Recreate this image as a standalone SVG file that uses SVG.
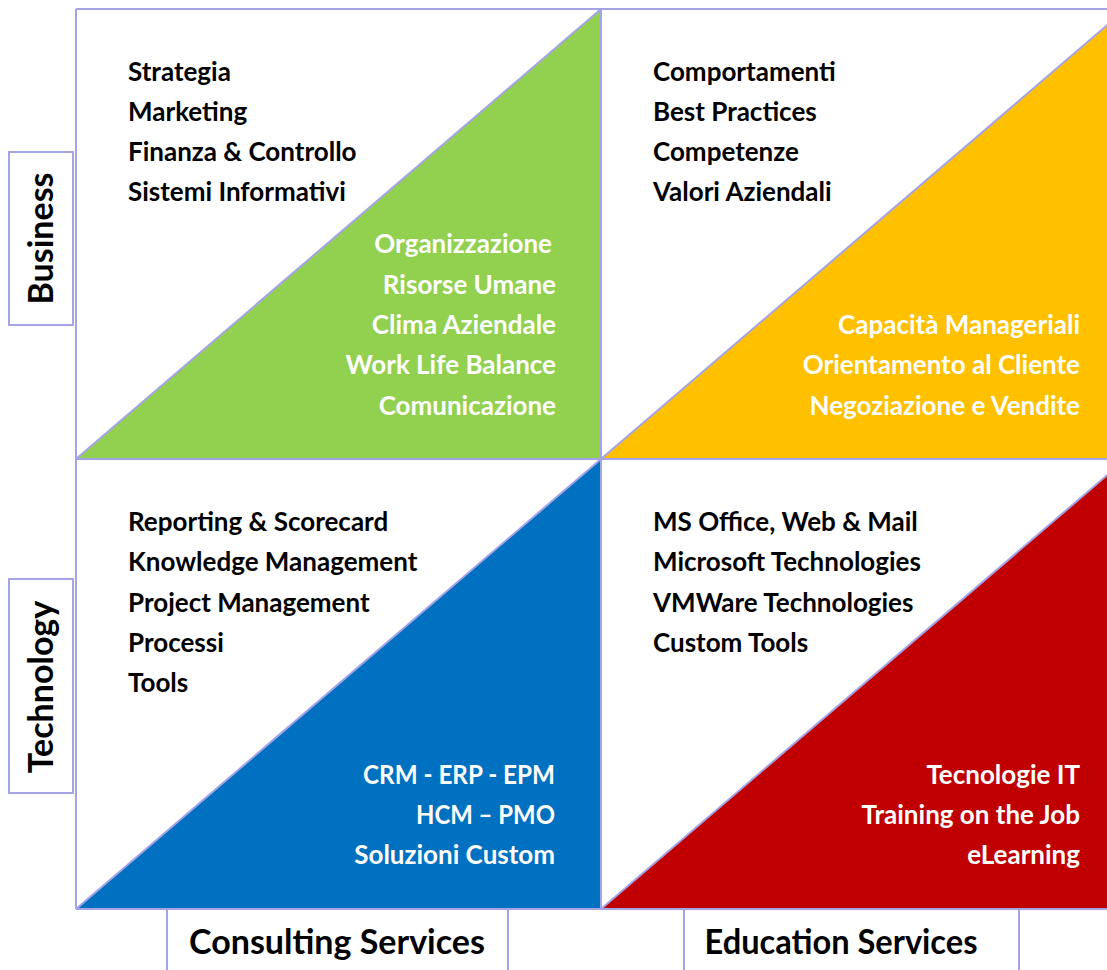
<svg xmlns="http://www.w3.org/2000/svg" width="1107" height="970" viewBox="0 0 1107 970">
<style>
.t{font-family:Lato,"Open Sans","Liberation Sans",sans-serif;font-weight:bold;font-size:26px;fill:#000}
.w{fill:#fff}
.e{text-anchor:end}
.lbl{font-family:Lato,"Open Sans","Liberation Sans",sans-serif;font-weight:bold;font-size:34px;fill:#000}
.ln{stroke:#a3a3e6;stroke-width:2;fill:none}
.box{fill:#fff;stroke:#a3a3e6;stroke-width:2}
</style>
<rect width="1107" height="970" fill="#fff"/>
<g id="quadrants">
<polygon points="76,459 601,459 601,9" fill="#92d050"/>
<polygon points="601,459 1126,459 1126,9" fill="#ffc000"/>
<polygon points="76,909 601,909 601,459" fill="#0070c0"/>
<polygon points="601,909 1126,909 1126,459" fill="#c00000"/>
</g>
<g id="connectors">
<line class="ln" x1="76" y1="9" x2="1107" y2="9"/>
<line class="ln" x1="76" y1="459" x2="1107" y2="459"/>
<line class="ln" x1="76" y1="909" x2="1107" y2="909"/>
<line class="ln" x1="76" y1="9" x2="76" y2="909"/>
<line class="ln" x1="601" y1="9" x2="601" y2="909"/>
<line class="ln" x1="76" y1="459" x2="601" y2="9"/>
<line class="ln" x1="601" y1="459" x2="1126" y2="9"/>
<line class="ln" x1="76" y1="909" x2="601" y2="459"/>
<line class="ln" x1="601" y1="909" x2="1126" y2="459"/>
</g>
<g id="business-label">
<rect class="box" x="9" y="152" width="64" height="173"/>
<text class="lbl" transform="translate(53,238.5) rotate(-90)" text-anchor="middle">Business</text>
</g>
<g id="technology-label">
<rect class="box" x="9" y="579" width="64" height="214"/>
<text class="lbl" transform="translate(53,687) rotate(-90)" text-anchor="middle">Technology</text>
</g>
<g id="consulting-label">
<rect class="box" x="167" y="909" width="341" height="70"/>
<text class="lbl" x="337" y="954" text-anchor="middle">Consulting Services</text>
</g>
<g id="education-label">
<rect class="box" x="684" y="909" width="335" height="70"/>
<text class="lbl" x="841" y="954" text-anchor="middle" textLength="273" lengthAdjust="spacingAndGlyphs">Education Services</text>
</g>
<g id="business-consulting">
<text class="t" x="128" y="81">Strategia</text>
<text class="t" x="128" y="121">Marketing</text>
<text class="t" x="128" y="161">Finanza &amp; Controllo</text>
<text class="t" x="128" y="201">Sistemi Informativi</text>
<text class="t w e" x="552" y="253">Organizzazione</text>
<text class="t w e" x="556" y="294">Risorse Umane</text>
<text class="t w e" x="556" y="334">Clima Aziendale</text>
<text class="t w e" x="556" y="374">Work Life Balance</text>
<text class="t w e" x="556" y="415">Comunicazione</text>
</g>
<g id="business-education">
<text class="t" x="653" y="81">Comportamenti</text>
<text class="t" x="653" y="121">Best Practices</text>
<text class="t" x="653" y="161">Competenze</text>
<text class="t" x="653" y="201">Valori Aziendali</text>
<text class="t w e" x="1080" y="334">Capacità Manageriali</text>
<text class="t w e" x="1080" y="374">Orientamento al Cliente</text>
<text class="t w e" x="1080" y="415">Negoziazione e Vendite</text>
</g>
<g id="technology-consulting">
<text class="t" x="128" y="531">Reporting &amp; Scorecard</text>
<text class="t" x="128" y="571">Knowledge Management</text>
<text class="t" x="128" y="612">Project Management</text>
<text class="t" x="128" y="652">Processi</text>
<text class="t" x="128" y="692">Tools</text>
<text class="t w e" x="555" y="784" textLength="192" lengthAdjust="spacingAndGlyphs">CRM - ERP - EPM</text>
<text class="t w e" x="555" y="824" textLength="139" lengthAdjust="spacingAndGlyphs">HCM – PMO</text>
<text class="t w e" x="555" y="864">Soluzioni Custom</text>
</g>
<g id="technology-education">
<text class="t" x="653" y="531">MS Office, Web &amp; Mail</text>
<text class="t" x="653" y="571">Microsoft Technologies</text>
<text class="t" x="653" y="612">VMWare Technologies</text>
<text class="t" x="653" y="652">Custom Tools</text>
<text class="t w e" x="1080" y="784">Tecnologie IT</text>
<text class="t w e" x="1080" y="824">Training on the Job</text>
<text class="t w e" x="1080" y="864">eLearning</text>
</g>
</svg>
